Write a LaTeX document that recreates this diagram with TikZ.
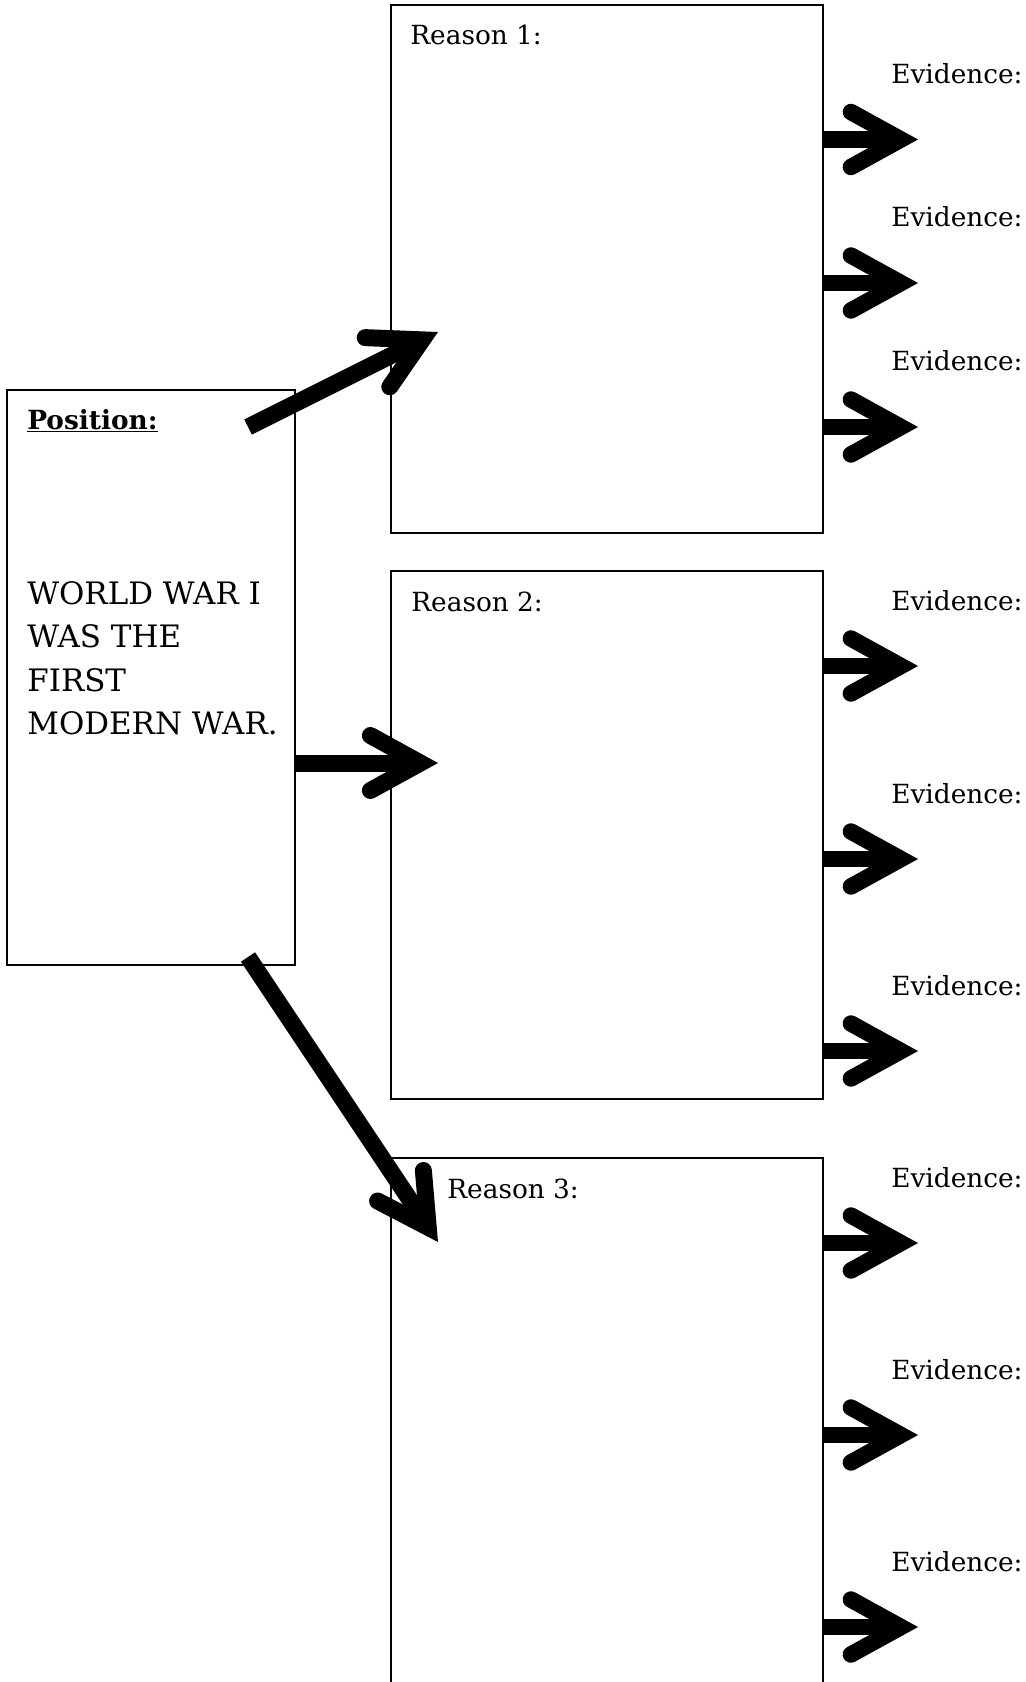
\documentclass[tikz,border=0pt]{standalone}
\usepackage{fontspec}
\setmainfont{DejaVu Serif}
\usetikzlibrary{arrows.meta}

\begin{document}
\begin{tikzpicture}[
    x=0.02cm, y=-0.02cm,
    every node/.style={inner sep=0pt},
    box/.style={draw, line width=1pt, minimum width=8.64cm, minimum height=10.56cm},
    posbox/.style={draw, line width=1pt, minimum width=5.76cm, minimum height=11.5cm},
    lbl/.style={anchor=base west, font=\fontsize{15}{18}\selectfont},
    bigarrow/.style={line width=0.34cm,
        -{Straight Barb[length=1.0cm, width=1.1cm, line cap=round, line join=miter]}},
    evarrow/.style={line width=0.33cm,
        -{Straight Barb[length=1.0cm, width=1.1cm, line cap=round, line join=miter]}}
]
\useasboundingbox (0,0) rectangle (1026,1682);
\clip (0,0) rectangle (1026,1682);

% boxes
\node[posbox] (pos) at (151,677.5) {};
\node[box] (r1) at (607,269) {};
\node[box] (r2) at (607,835) {};
\node[box] (r3) at (607,1422) {};

% texts
\node[lbl] (postitle) at (27,429) {\underline{\textbf{Position:}}};
\node[anchor=base west, font=\fontsize{17.6}{24.8}\selectfont] (claim) at (27,604)
    {\begin{tabular}[t]{@{}l@{}}WORLD WAR I\\ WAS THE\\ FIRST\\ MODERN WAR.\end{tabular}};
\node[lbl] (rl1) at (410,45) {Reason 1:};
\node[lbl] (rl2) at (411,611) {Reason 2:};
\node[lbl] (rl3) at (447,1198) {Reason 3:};

% position -> reasons
\coordinate (a1s) at (248,427);
\coordinate (a1t) at (438,332);
\coordinate (a2t) at (438,763);
\coordinate (a2s) at (pos.east |- a2t);
\coordinate (a3s) at (248,957);
\coordinate (a3t) at (438,1242);
\draw[bigarrow] (a1s) -- (a1t);
\draw[bigarrow] (a2s) -- (a2t);
\draw[bigarrow] (a3s) -- (a3t);

% reasons -> evidence
\foreach \y [count=\i] in {139.5,283,427,666,859,1051,1243,1435,1627} {
    \coordinate (es\i) at (823,\y);
    \coordinate (et\i) at (918,\y);
    \draw[evarrow] (es\i) -- (et\i);
    \node[lbl] (ev\i) at (891,\y-56) {Evidence:};
}

\end{tikzpicture}
\end{document}
